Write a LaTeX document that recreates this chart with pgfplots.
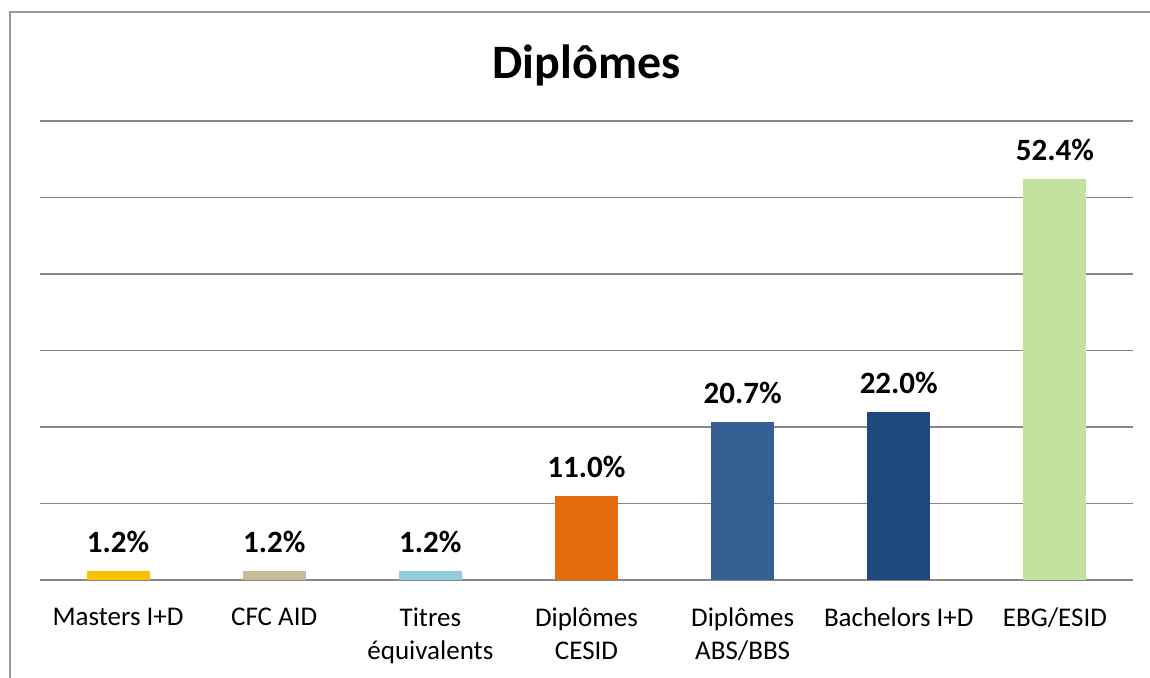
\documentclass[border=0pt]{standalone}
\usepackage{fontspec}
\setmainfont{Carlito}
\usepackage{pgfplots}
\pgfplotsset{compat=1.18}

\definecolor{cGold}{HTML}{FFC000}
\definecolor{cTan}{HTML}{C4BD97}
\definecolor{cSky}{HTML}{92CDDC}
\definecolor{cOrange}{HTML}{E46C0A}
\definecolor{cMid}{HTML}{376092}
\definecolor{cNavy}{HTML}{1F497D}
\definecolor{cLime}{HTML}{C3E19F}
\definecolor{cGrid}{RGB}{134,134,134}

\begin{document}
\begin{tikzpicture}
\useasboundingbox (-20pt,-48.5pt) rectangle (555pt,290pt);
% chart frame (only left and top edge visible)
\draw[cGrid!85, line width=1pt] (-15pt,-60pt) -- (-15pt,284pt) -- (570pt,284pt);
\begin{axis}[
    at={(0,0)}, anchor=south west,
    width=546.5pt, height=229.5pt,
    scale only axis,
    ybar, bar width=31.5pt, bar shift=0pt,
    xmin=-0.5, xmax=6.5,
    ymin=0, ymax=60,
    xtick={0,1,...,6},
    xticklabels={Masters I+D, CFC AID, {Titres\\équivalents}, {Diplômes\\CESID}, {Diplômes\\ABS/BBS}, Bachelors I+D, EBG/ESID},
    xticklabel style={align=center, anchor=north, inner sep=0pt, yshift=-9.5pt,
        font=\fontsize{13.5}{16.5}\selectfont},
    ytick={0,10,...,60}, yticklabels={},
    tick style={draw=none},
    axis line style={draw=none},
    ymajorgrids,
    grid style={cGrid, line width=0.9pt},
    title={Diplômes},
    title style={at={(0.5,1.0654)}, anchor=base, font=\bfseries\fontsize{24}{28}\selectfont},
    nodes near coords={\pgfmathprintnumber[fixed,fixed zerofill,precision=1,assume math mode=true]{\pgfplotspointmeta}\%},
    every node near coord/.append style={anchor=south, inner sep=0pt, yshift=9pt,
        font=\bfseries\fontsize{15.5}{18}\selectfont, text=black},
]
\addplot[fill=cGold, draw=none] coordinates {(0,1.2)};
\addplot[fill=cTan, draw=none] coordinates {(1,1.2)};
\addplot[fill=cSky, draw=none] coordinates {(2,1.2)};
\addplot[fill=cOrange, draw=none] coordinates {(3,11.0)};
\addplot[fill=cMid, draw=none] coordinates {(4,20.7)};
\addplot[fill=cNavy, draw=none] coordinates {(5,22.0)};
\addplot[fill=cLime, draw=none] coordinates {(6,52.4)};
\end{axis}
\end{tikzpicture}
\end{document}
